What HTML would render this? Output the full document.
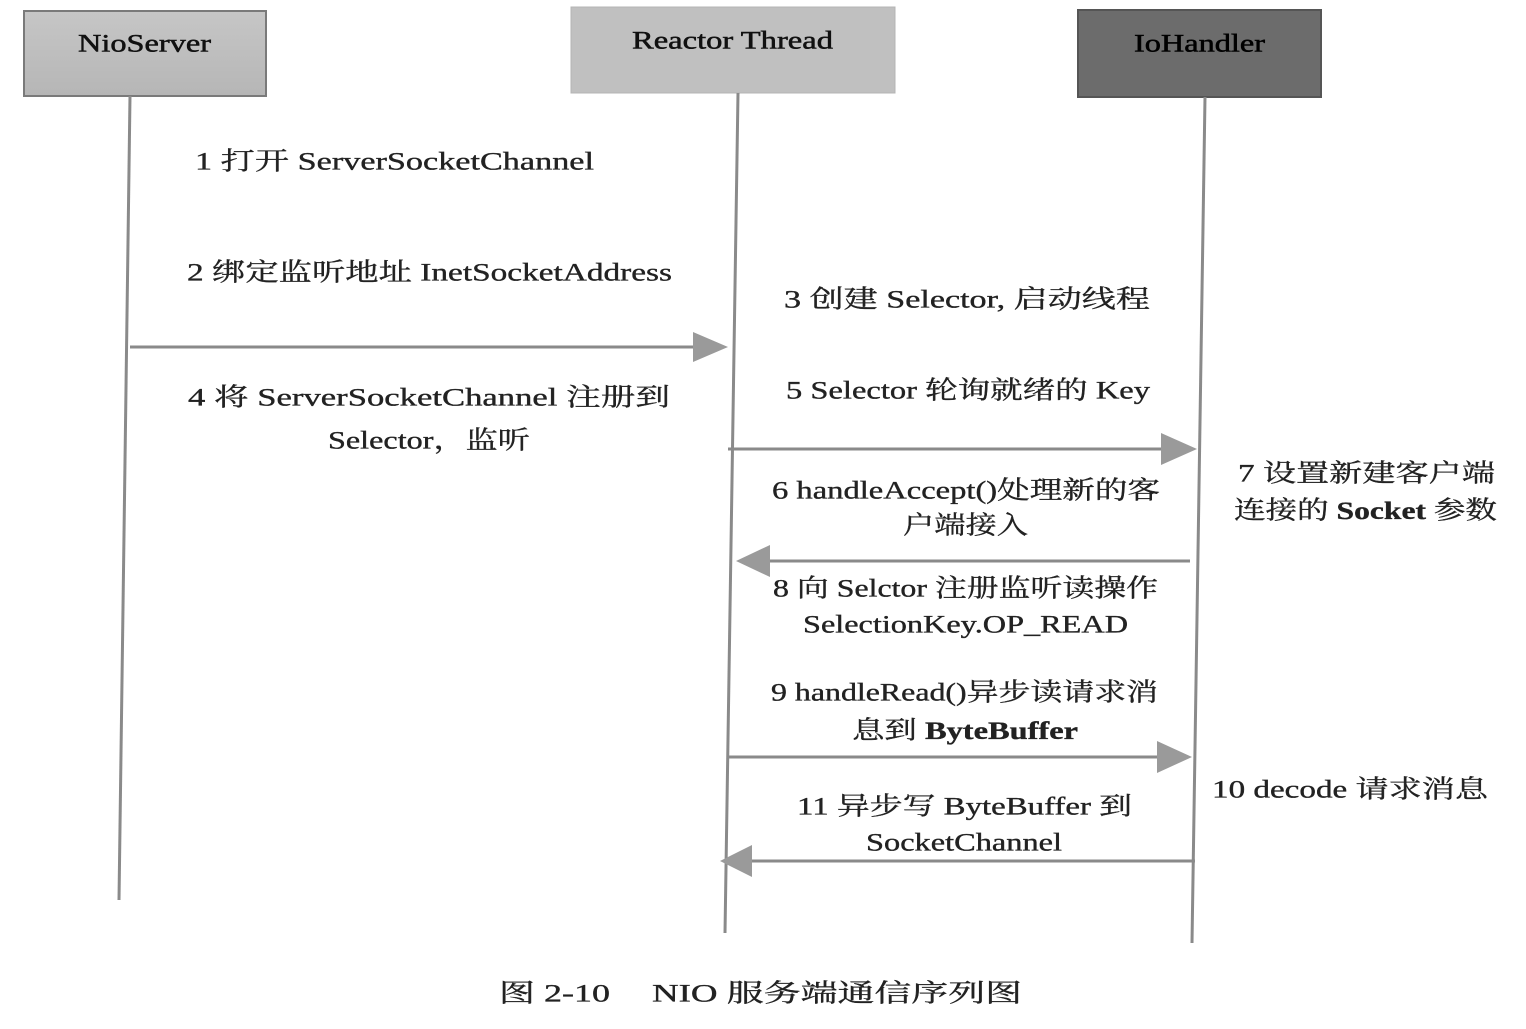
<!DOCTYPE html>
<html><head><meta charset="utf-8"><style>
html,body{margin:0;padding:0;background:#fff;}
svg{display:block;}
text{font-family:"Liberation Serif","Noto Serif CJK SC",serif;fill:#222;stroke:#222;stroke-width:0.35;font-size:25px;}
.b{font-weight:bold;}
</style></head><body>
<svg width="1526" height="1029" viewBox="0 0 1526 1029" xmlns="http://www.w3.org/2000/svg">
<defs>
<linearGradient id="g1" x1="0" y1="0" x2="0" y2="1"><stop offset="0" stop-color="#c6c6c6"/><stop offset="1" stop-color="#b6b6b6"/></linearGradient>
</defs>
<!-- boxes -->
<rect x="24" y="11" width="242" height="85" fill="url(#g1)" stroke="#7a7a7a" stroke-width="2"/>
<rect x="571" y="7" width="324" height="86" fill="#c0c0c0" stroke="#b4b4b4" stroke-width="1"/>
<rect x="1078" y="10" width="243" height="87" fill="#6c6c6c" stroke="#555" stroke-width="2"/>
<text x="78" y="44" dominant-baseline="central" textLength="133" lengthAdjust="spacingAndGlyphs" font-size="27" style="fill:#111;stroke:#111;stroke-width:0.5">NioServer</text>
<text x="632" y="41" dominant-baseline="central" textLength="201" lengthAdjust="spacingAndGlyphs" font-size="27" style="fill:#111;stroke:#111;stroke-width:0.5">Reactor Thread</text>
<text x="1134" y="44" dominant-baseline="central" textLength="131" lengthAdjust="spacingAndGlyphs" font-size="27" style="fill:#000;stroke:#000;stroke-width:0.5">IoHandler</text>
<!-- lifelines -->
<g stroke="#8a8a8a" stroke-width="3" fill="none">
<line x1="130" y1="96" x2="119" y2="900"/>
<line x1="738" y1="93" x2="725" y2="933"/>
<line x1="1205" y1="97" x2="1192" y2="943"/>
</g>
<!-- arrows -->
<g stroke="#8a8a8a" stroke-width="3">
<line x1="130" y1="347" x2="700" y2="347"/>
<line x1="728" y1="449" x2="1165" y2="449"/>
<line x1="1190" y1="561" x2="765" y2="561"/>
<line x1="727" y1="757" x2="1160" y2="757"/>
<line x1="1195" y1="861" x2="748" y2="861"/>
</g>
<g fill="#9a9a9a">
<polygon points="693,332 728,347 693,362"/>
<polygon points="1161,433 1197,449 1161,465"/>
<polygon points="770,545 736,561 770,577"/>
<polygon points="1157,741 1192,757 1157,773"/>
<polygon points="752,845 720,861 752,877"/>
</g>
<!-- labels -->
<g dominant-baseline="central">
<text x="195" y="162" textLength="399" lengthAdjust="spacingAndGlyphs">1 打开 ServerSocketChannel</text>
<text x="187" y="273" textLength="485" lengthAdjust="spacingAndGlyphs">2 绑定监听地址 InetSocketAddress</text>
<text x="784" y="300" textLength="366" lengthAdjust="spacingAndGlyphs">3 创建 Selector, 启动线程</text>
<text x="188" y="398" textLength="482" lengthAdjust="spacingAndGlyphs">4 将 ServerSocketChannel 注册到</text>
<text x="328" y="441" textLength="202" lengthAdjust="spacingAndGlyphs">Selector，监听</text>
<text x="786" y="391" textLength="364" lengthAdjust="spacingAndGlyphs">5 Selector 轮询就绪的 Key</text>
<text x="772" y="491" textLength="388" lengthAdjust="spacingAndGlyphs">6 handleAccept()处理新的客</text>
<text x="903" y="526" textLength="125" lengthAdjust="spacingAndGlyphs">户端接入</text>
<text x="1238" y="474" textLength="257" lengthAdjust="spacingAndGlyphs">7 设置新建客户端</text>
<text x="1234" y="511" textLength="263" lengthAdjust="spacingAndGlyphs">连接的 <tspan class="b">Socket</tspan> 参数</text>
<text x="773" y="589" textLength="385" lengthAdjust="spacingAndGlyphs">8 向 Selctor 注册监听读操作</text>
<text x="803" y="625" textLength="325" lengthAdjust="spacingAndGlyphs">SelectionKey.OP_READ</text>
<text x="771" y="693" textLength="387" lengthAdjust="spacingAndGlyphs">9 handleRead()异步读请求消</text>
<text x="852" y="731" textLength="226" lengthAdjust="spacingAndGlyphs">息到 <tspan class="b">ByteBuffer</tspan></text>
<text x="1212" y="790" textLength="276" lengthAdjust="spacingAndGlyphs">10 decode 请求消息</text>
<text x="797" y="807" textLength="335" lengthAdjust="spacingAndGlyphs">11 异步写 ByteBuffer 到</text>
<text x="866" y="843" textLength="196" lengthAdjust="spacingAndGlyphs">SocketChannel</text>
<text x="499" y="994" textLength="111" lengthAdjust="spacingAndGlyphs" font-size="27">图 2-10</text>
<text x="652" y="994" textLength="370" lengthAdjust="spacingAndGlyphs" font-size="27">NIO 服务端通信序列图</text>
</g>
</svg>
</body></html>
